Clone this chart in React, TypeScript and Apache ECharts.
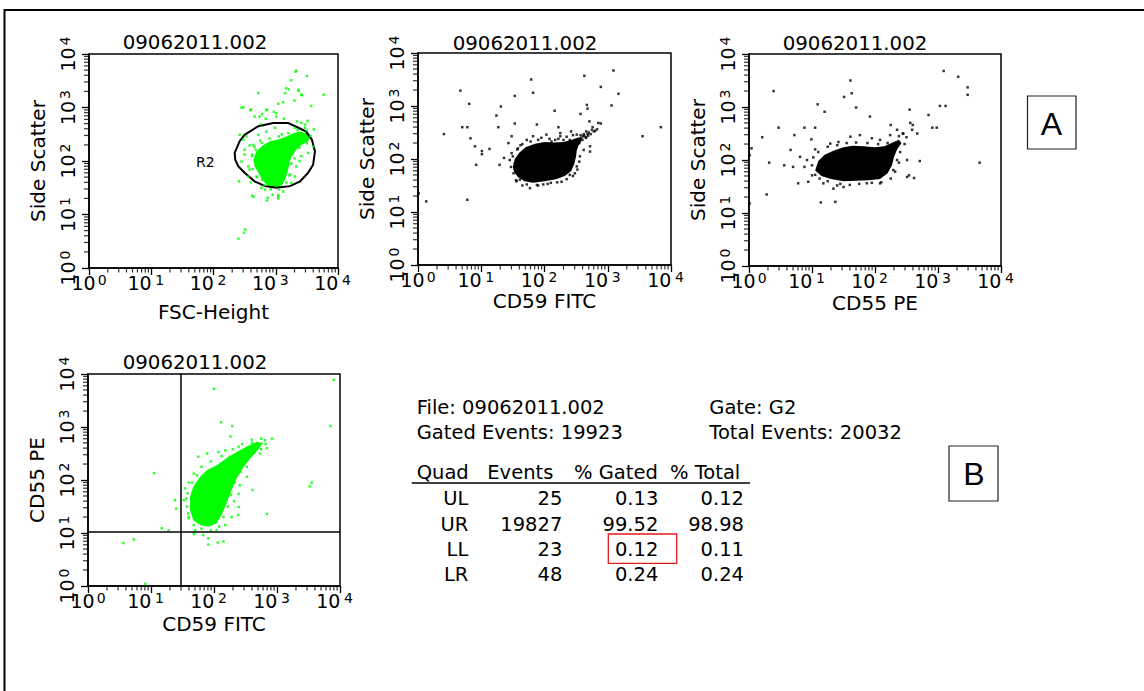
import React, { useEffect, useRef } from "react";
import * as echarts from "echarts";

// ---------- data (values are decades: log10 of channel intensity) ----------
const FILE_NAME = "09062011.002";
const GATE_NAME = "G2";
const GATED_EVENTS = 19923;
const TOTAL_EVENTS = 20032;
const X_NAMES = ["FSC-Height", "CD59 FITC", "CD55 PE", "CD59 FITC"];
const Y_NAMES = ["Side Scatter", "Side Scatter", "Side Scatter", "CD55 PE"];

const QUADS = ["UL", "UR", "LL", "LR"];
const QUAD_EVENTS = [25, 19827, 23, 48];
const QUAD_PCT_GATED = ["0.13", "99.52", "0.12", "0.24"];
const QUAD_PCT_TOTAL = ["0.12", "98.98", "0.11", "0.24"];
const TABLE_HEADERS = ["Quad", "Events", "% Gated", "% Total"];

// Plot 1: FSC-Height vs Side Scatter
const FSC_SSC_EVENTS = [
  [3.33, 3.69], [3.5, 3.59], [3.25, 3.51], [3.17, 3.36], [3.37, 3.31], [3.77, 3.24], [2.72, 3.27],
  [3.15, 3.27], [3.42, 3.23], [3.3, 3.13], [3.12, 3.1], [3.04, 3.07], [3.57, 3.03], [2.48, 3.0],
  [2.6, 2.96], [2.86, 2.96], [2.97, 2.92], [2.78, 2.88], [2.66, 2.83], [2.74, 2.83], [3.01, 2.83],
  [3.13, 2.79], [2.84, 2.79], [3.51, 2.75], [3.34, 2.74], [3.41, 2.71], [2.76, 2.69], [3.61, 2.59],
  [3.47, 2.62], [2.42, 2.49], [2.48, 2.4], [2.58, 2.29], [2.5, 2.12], [2.45, 1.99], [2.56, 1.9],
  [2.41, 1.62], [2.62, 1.35], [2.77, 1.5], [2.87, 1.31], [3.04, 1.34], [2.95, 1.37], [3.22, 1.73],
  [2.62, 2.09], [2.68, 2.21], [2.4, 0.55], [2.49, 0.66], [2.51, 0.72], [2.64, 1.33], [2.86, 1.26],
  [3.04, 1.3], [3.04, 1.36], [2.45, 3.0], [2.59, 2.95], [2.85, 2.95], [3.01, 2.89], [3.21, 3.34],
  [3.32, 3.67], [3.41, 3.24], [3.36, 3.33], [2.5, 2.21], [2.53, 2.46], [2.72, 2.49], [2.85, 2.55],
  [2.99, 2.62], [3.31, 2.62], [3.47, 2.68], [3.6, 2.27], [3.52, 2.15], [3.41, 2.09], [3.33, 1.9],
  [3.31, 1.71], [3.25, 1.59], [2.78, 1.65], [2.69, 1.71], [2.58, 1.84], [2.56, 1.71], [2.83, 1.46],
  [3.12, 1.43], [2.64, 2.3], [2.75, 2.38], [3.1, 2.5], [3.45, 2.45], [3.38, 2.0], [2.6, 1.6],
  [2.62, 2.12], [2.66, 2.26], [2.78, 2.34], [2.9, 2.42], [3.05, 2.46], [3.2, 2.52], [3.35, 2.58],
  [3.5, 2.57], [3.56, 2.47], [3.5, 2.33], [3.38, 2.25], [3.3, 2.05], [3.25, 1.95], [3.23, 1.75],
  [3.17, 1.6], [3.05, 1.47], [2.92, 1.47], [2.82, 1.55], [2.7, 1.7], [2.63, 1.85],
];
const FSC_SSC_CORE = [
  [2.64, 2.02], [2.69, 2.18], [2.8, 2.3], [2.91, 2.37], [3.04, 2.4], [3.17, 2.46], [3.28, 2.52],
  [3.39, 2.55], [3.49, 2.52], [3.55, 2.43], [3.52, 2.37], [3.41, 2.3], [3.33, 2.21], [3.28, 2.12],
  [3.23, 2.02], [3.2, 1.84], [3.15, 1.65], [3.09, 1.53], [2.99, 1.5], [2.88, 1.53], [2.8, 1.62],
  [2.72, 1.78], [2.66, 1.9],
];
const R2_GATE = [
  [2.34, 2.15], [2.42, 2.37], [2.5, 2.49], [2.72, 2.65], [2.96, 2.71], [3.2, 2.71], [3.33, 2.64],
  [3.49, 2.55], [3.58, 2.4], [3.63, 2.18], [3.6, 1.93], [3.52, 1.78], [3.39, 1.62], [3.23, 1.53],
  [3.01, 1.5], [2.83, 1.53], [2.66, 1.62], [2.5, 1.78], [2.4, 1.9], [2.35, 2.02],
];
const R2_LABEL = [1.87, 1.98];

// Plot 2: CD59 FITC vs Side Scatter
const CD59_SSC_EVENTS = [
  [0.67, 3.29], [0.81, 3.04], [0.41, 2.47], [0.7, 2.6], [0.78, 2.6], [0.83, 2.39], [0.9, 2.24],
  [1.01, 2.15], [1.01, 2.09], [1.13, 2.19], [0.92, 1.89], [1.29, 1.89], [1.36, 2.02], [1.24, 2.82],
  [1.31, 2.99], [1.27, 2.6], [1.53, 3.19], [1.53, 2.67], [1.48, 2.43], [1.43, 2.3], [1.79, 3.5],
  [1.82, 3.25], [1.88, 2.65], [2.16, 2.91], [2.22, 2.6], [2.42, 2.52], [2.57, 2.85], [2.63, 3.57],
  [2.67, 3.02], [2.68, 2.95], [2.71, 2.71], [2.89, 3.36], [2.85, 2.68], [2.89, 2.67], [3.09, 3.67],
  [3.17, 3.23], [3.06, 3.01], [3.55, 2.43], [3.84, 2.6], [0.01, 1.35], [0.13, 1.2], [0.78, 1.23],
  [2.11, 2.33], [2.25, 2.43], [2.61, 2.43], [2.8, 2.53], [1.48, 2.11], [1.53, 1.92], [1.51, 1.73],
  [1.61, 1.61], [1.77, 1.45], [1.88, 1.51], [1.98, 1.52], [2.27, 1.57], [2.4, 1.7], [2.48, 1.73],
  [2.51, 1.86], [2.56, 2.05], [2.62, 2.17], [2.72, 2.24], [2.72, 2.14], [1.72, 2.36], [1.82, 2.43],
  [2.03, 2.46], [2.17, 2.36], [2.3, 2.36], [2.25, 2.49], [2.51, 2.46], [2.76, 2.6], [2.66, 2.4],
  [1.62, 2.26], [1.58, 2.2], [1.95, 2.4], [2.4, 2.36], [1.45, 1.98], [1.56, 1.58], [2.1, 1.55],
  [2.58, 2.4], [2.63, 2.44], [2.7, 2.5], [2.75, 2.55], [2.78, 2.52], [2.68, 2.47], [2.6, 2.36],
  [2.55, 2.3], [2.83, 2.56], [2.66, 2.52], [1.47, 1.85], [1.5, 2.05], [1.55, 1.6], [1.65, 1.5],
  [1.72, 1.52], [1.9, 1.5], [2.05, 1.53], [2.2, 1.56], [2.35, 1.62], [2.45, 1.68], [2.52, 1.8],
  [2.55, 1.95], [1.65, 2.28], [1.78, 2.33], [1.9, 2.36], [2.08, 2.38], [2.22, 2.38], [2.35, 2.42],
  [2.45, 2.45], [1.57, 2.18], [2.62, 2.47], [2.65, 2.41], [2.69, 2.44], [2.73, 2.47], [2.57, 2.45],
];
const CD59_SSC_CORE = [
  [1.5, 1.85], [1.53, 2.0], [1.6, 2.12], [1.7, 2.22], [1.85, 2.29], [2.0, 2.32], [2.15, 2.31],
  [2.3, 2.32], [2.42, 2.36], [2.52, 2.4], [2.58, 2.41], [2.59, 2.35], [2.54, 2.26], [2.51, 2.16],
  [2.5, 2.05], [2.47, 1.9], [2.42, 1.77], [2.32, 1.68], [2.18, 1.62], [2.0, 1.58], [1.82, 1.55],
  [1.68, 1.58], [1.58, 1.66], [1.52, 1.75],
];

// Plot 3: CD55 PE vs Side Scatter
const CD55_SSC_EVENTS = [
  [0.39, 3.3], [0.01, 2.09], [0.04, 2.22], [0.21, 2.43], [0.47, 2.61], [0.32, 1.95], [0.28, 1.35],
  [0.01, 1.18], [0.72, 2.47], [0.66, 2.19], [0.56, 1.9], [0.88, 2.61], [1.05, 2.61], [1.09, 3.05],
  [1.2, 2.91], [0.99, 2.39], [1.14, 1.2], [1.37, 1.21], [1.51, 3.19], [1.61, 3.5], [1.63, 3.26],
  [1.7, 2.99], [1.92, 2.82], [2.25, 2.66], [2.55, 2.95], [2.56, 2.7], [2.6, 2.66], [2.85, 2.85],
  [2.91, 2.61], [2.98, 2.61], [3.03, 3.02], [3.12, 3.02], [3.09, 3.68], [3.32, 3.57], [3.47, 3.37],
  [3.47, 3.23], [3.66, 1.95], [2.71, 1.98], [2.54, 1.71], [2.62, 1.66], [0.92, 2.0], [0.88, 1.87],
  [1.0, 1.71], [0.94, 1.59], [1.18, 1.56], [1.34, 1.46], [1.5, 1.49], [1.29, 2.31], [1.42, 2.34],
  [1.61, 2.44], [1.76, 2.47], [1.95, 2.41], [2.08, 2.38], [2.24, 2.47], [2.35, 2.57], [2.59, 2.57],
  [2.67, 2.5], [2.29, 1.81], [2.35, 2.0], [2.51, 2.0], [2.51, 1.68], [2.08, 1.56], [1.87, 1.56],
  [0.81, 2.06], [0.7, 1.87], [0.78, 1.56], [1.05, 2.2], [1.4, 1.52], [2.44, 2.5], [1.0, 1.9],
  [1.02, 2.05], [1.1, 2.15], [1.25, 2.25], [1.4, 2.28], [1.55, 2.32], [1.7, 2.33], [1.88, 2.32],
  [2.05, 2.3], [2.2, 2.32], [2.38, 2.45], [2.45, 2.5], [2.5, 2.43], [2.47, 2.3], [2.4, 2.15],
  [2.38, 1.95], [2.32, 1.78], [2.25, 1.65], [2.1, 1.58], [1.95, 1.57], [1.75, 1.55], [1.6, 1.53],
  [1.45, 1.55], [1.25, 1.6], [1.12, 1.65], [1.05, 1.72],
];
const CD55_SSC_CORE = [
  [1.05, 1.8], [1.1, 1.98], [1.2, 2.1], [1.35, 2.18], [1.5, 2.24], [1.65, 2.27], [1.82, 2.26],
  [2.0, 2.24], [2.15, 2.26], [2.28, 2.33], [2.38, 2.38], [2.42, 2.32], [2.35, 2.2], [2.3, 2.05],
  [2.27, 1.9], [2.2, 1.75], [2.08, 1.64], [1.9, 1.62], [1.7, 1.61], [1.5, 1.6], [1.3, 1.64],
  [1.15, 1.7],
];

// Plot 4: CD59 FITC vs CD55 PE, quadrant cross
const CD59_CD55_EVENTS = [
  [3.9, 3.89], [2.0, 3.72], [2.11, 3.09], [2.29, 3.02], [2.26, 2.82], [3.85, 3.02], [2.92, 2.78],
  [1.05, 2.13], [3.55, 1.95], [3.52, 1.88], [2.61, 1.81], [2.84, 1.36], [2.38, 1.34], [0.56, 0.81],
  [0.73, 0.88], [1.17, 1.09], [1.28, 1.05], [0.91, 0.04], [1.91, 0.78], [2.06, 0.82], [2.15, 0.84],
  [1.68, 0.98], [1.38, 1.62], [1.4, 1.46], [1.54, 1.84], [1.56, 1.65], [1.52, 1.62], [1.59, 1.37],
  [1.7, 1.05], [1.83, 0.96], [1.91, 0.9], [2.04, 1.05], [2.18, 1.15], [2.28, 1.3], [2.39, 1.49],
  [2.39, 1.74], [2.41, 1.9], [2.52, 2.06], [2.52, 2.25], [2.73, 2.5], [2.84, 2.6], [2.81, 2.75],
  [1.73, 2.09], [1.75, 2.44], [1.89, 2.5], [2.07, 2.53], [2.25, 2.44], [2.18, 2.56], [2.39, 2.63],
  [2.6, 2.7], [2.66, 2.58], [1.6, 1.28], [1.65, 1.95], [2.32, 1.6], [1.58, 1.75], [1.6, 1.95],
  [1.68, 2.12], [1.8, 2.25], [1.95, 2.35], [2.12, 2.45], [2.3, 2.58], [2.45, 2.68], [2.6, 2.76],
  [2.75, 2.78], [2.82, 2.68], [2.75, 2.58], [2.62, 2.5], [2.5, 2.35], [2.42, 2.15], [2.33, 1.95],
  [2.27, 1.72], [2.22, 1.5], [2.15, 1.3], [2.08, 1.12], [1.95, 1.05], [1.8, 1.08], [1.68, 1.15],
  [1.6, 1.3], [1.57, 1.5],
];
const CD59_CD55_CORE = [
  [1.62, 1.68], [1.67, 1.87], [1.78, 2.06], [1.89, 2.19], [2.04, 2.28], [2.2, 2.41], [2.36, 2.53],
  [2.52, 2.63], [2.68, 2.72], [2.78, 2.7], [2.7, 2.57], [2.6, 2.44], [2.47, 2.25], [2.36, 2.03],
  [2.28, 1.81], [2.2, 1.56], [2.12, 1.34], [2.04, 1.18], [1.91, 1.12], [1.78, 1.15], [1.67, 1.24],
  [1.62, 1.43],
];
const QUAD_CROSS = [1.48, 1.02];

// ---------- layout / style ----------
const FONT = "DejaVu Sans";
const GREEN = "#00ff00";
const GRIDS = [
  { left: 89, top: 54, width: 249, height: 214 },
  { left: 418, top: 53, width: 253, height: 212 },
  { left: 749, top: 54, width: 252, height: 212 },
  { left: 88, top: 374, width: 252, height: 212 },
];
const X_NAME_GAPS = [37, 28.8, 29.8, 31];
const TITLE_POS = [
  [195, 42.5],
  [525, 43],
  [855, 43],
  [195, 362.5],
];

// log-decade minor tick positions (2..9 within each decade)
const MINOR: number[] = [];
for (let d = 0; d < 4; d++) for (let k = 2; k < 10; k++) MINOR.push(d + Math.log10(k));

function buildOption() {
  const xAxis: any[] = [];
  const yAxis: any[] = [];
  const series: any[] = [];

  const lineStyle = { color: "#000", width: 1.5 };
  const nameStyle = { fontFamily: FONT, fontSize: 20, color: "#000", lineHeight: 14 };
  const richBase = { fontFamily: FONT, fontSize: 19, color: "#000", lineHeight: 20 };
  const richSup = { fontFamily: FONT, fontSize: 14, color: "#000", verticalAlign: "top", lineHeight: 2 };

  GRIDS.forEach((g, gi) => {
    xAxis.push({
      type: "value", gridIndex: gi, min: 0, max: 4, interval: 1, position: "bottom",
      name: X_NAMES[gi], nameLocation: "middle", nameGap: X_NAME_GAPS[gi], nameTextStyle: nameStyle,
      axisLine: { show: true, onZero: false, lineStyle },
      axisTick: { show: true, length: 7, lineStyle: { color: "#000", width: 1.3 } },
      splitLine: { show: false },
      axisLabel: {
        margin: 4.7,
        formatter: (v: number) => (v === 0 ? `{b|10}{t|0}` : `{b|10}{s|${v}}`),
        rich: {
          b: richBase,
          s: { ...richSup, padding: [0, 11, 0, 3.5] },
          t: { ...richSup, padding: [0, 0, 0, 2] },
        },
      },
    });
    yAxis.push({
      type: "value", gridIndex: gi, min: 0, max: 4, interval: 1, position: "left",
      name: Y_NAMES[gi], nameLocation: "middle", nameGap: 44, nameTextStyle: nameStyle,
      axisLine: { show: true, onZero: false, lineStyle },
      axisTick: { show: true, length: 7, lineStyle: { color: "#000", width: 1.3 } },
      splitLine: { show: false },
      axisLabel: {
        rotate: 90, margin: 11,
        formatter: (v: number) => `{b|10}{s|${v}}`,
        rich: { b: richBase, s: { ...richSup, padding: [0, 0, 0, 2] } },
      },
    });
  });

  const polygon = (gi: number, pts: number[][], style: any) => ({
    type: "custom", xAxisIndex: gi, yAxisIndex: gi, data: [[0, 0]], silent: true, clip: true,
    renderItem: (_p: any, api: any) => ({
      type: "polygon",
      shape: { points: pts.map((p) => api.coord(p)) },
      style,
    }),
  });
  const dots = (gi: number, pts: number[][], color: string, extra: any = {}) => ({
    type: "scatter", xAxisIndex: gi, yAxisIndex: gi, data: pts, symbol: "rect",
    symbolSize: 2.5, itemStyle: { color }, silent: true, ...extra,
  });
  // minor log ticks drawn as thin marks placed through the axes
  const minorX = (gi: number) => ({
    type: "scatter", xAxisIndex: gi, yAxisIndex: gi, data: MINOR.map((v) => [v, 0]), clip: false,
    symbol: "rect", symbolSize: [1.2, 4.5], symbolOffset: [0, 2.25], itemStyle: { color: "#000" }, silent: true,
    z: 5,
  });
  const minorY = (gi: number) => ({
    type: "scatter", xAxisIndex: gi, yAxisIndex: gi, data: MINOR.map((v) => [0, v]), clip: false,
    symbol: "rect", symbolSize: [5, 1.2], symbolOffset: [-2.5, 0], itemStyle: { color: "#000" }, silent: true,
    z: 5,
  });

  GRIDS.forEach((_g, gi) => {
    series.push(minorX(gi));
    series.push(minorY(gi));
  });

  // plot 1
  series.push(polygon(0, FSC_SSC_CORE, { fill: GREEN }));
  series.push(dots(0, FSC_SSC_EVENTS, GREEN));
  series.push(polygon(0, R2_GATE, { fill: "none", stroke: "#000", lineWidth: 2 }));
  series.push({
    type: "custom", xAxisIndex: 0, yAxisIndex: 0, data: [R2_LABEL], silent: true,
    renderItem: (_p: any, api: any) => {
      const c = api.coord([api.value(0), api.value(1)]);
      return {
        type: "text", x: c[0], y: c[1],
        style: { text: "R2", fontFamily: FONT, fontSize: 14, fill: "#000", align: "center", verticalAlign: "middle" },
      };
    },
  });
  // plot 2
  series.push(polygon(1, CD59_SSC_CORE, { fill: "#000" }));
  series.push(dots(1, CD59_SSC_EVENTS, "#000"));
  // plot 3
  series.push(polygon(2, CD55_SSC_CORE, { fill: "#000" }));
  series.push(dots(2, CD55_SSC_EVENTS, "#000"));
  // plot 4
  series.push(polygon(3, CD59_CD55_CORE, { fill: GREEN }));
  series.push(
    dots(3, CD59_CD55_EVENTS, GREEN, {
      markLine: {
        silent: true, symbol: ["none", "none"], label: { show: false },
        lineStyle: { color: "#000", width: 1.5, type: "solid" },
        data: [{ xAxis: QUAD_CROSS[0] }, { yAxis: QUAD_CROSS[1] }],
      },
    })
  );

  const txt = (text: string, x: number, y: number, align = "left", size = 19.5, family = FONT) => ({
    type: "text", x, y, silent: true,
    style: { text, fontFamily: family, fontSize: size, fill: "#000", align, verticalAlign: "middle" },
  });

  const graphic: any[] = [
    { type: "rect", silent: true, shape: { x: 4.5, y: 10, width: 1300, height: 900 }, style: { fill: "none", stroke: "#000", lineWidth: 2 } },
    { type: "rect", silent: true, shape: { x: 1027.5, y: 96, width: 48.5, height: 53 }, style: { fill: "none", stroke: "#222", lineWidth: 1.2 } },
    txt("A", 1051.5, 123.5, "center", 32, "Liberation Sans"),
    { type: "rect", silent: true, shape: { x: 949, y: 446, width: 49, height: 55 }, style: { fill: "none", stroke: "#222", lineWidth: 1.2 } },
    txt("B", 974, 474, "center", 32, "Liberation Sans"),
  ];
  TITLE_POS.forEach(([x, y]) => graphic.push(txt(FILE_NAME, x, y, "center", 19.8)));

  graphic.push(txt(`File: ${FILE_NAME}`, 416.7, 407.3));
  graphic.push(txt(`Gated Events: ${GATED_EVENTS}`, 416.7, 432));
  graphic.push(txt(`Gate: ${GATE_NAME}`, 709.3, 407.3));
  graphic.push(txt(`Total Events: ${TOTAL_EVENTS}`, 709.3, 432));
  const headerX = [416.7, 487.3, 574, 670];
  TABLE_HEADERS.forEach((h, i) => graphic.push(txt(h, headerX[i], 472)));
  graphic.push({ type: "line", silent: true, shape: { x1: 411.7, y1: 483, x2: 750, y2: 483 }, style: { stroke: "#000", lineWidth: 1.5 } });
  QUADS.forEach((q, i) => {
    const y = 498.7 + i * 25.3;
    graphic.push(txt(q, 468.3, y, "right"));
    graphic.push(txt(String(QUAD_EVENTS[i]), 562.3, y, "right"));
    graphic.push(txt(QUAD_PCT_GATED[i], 658.3, y, "right"));
    graphic.push(txt(QUAD_PCT_TOTAL[i], 744, y, "right"));
  });
  graphic.push({ type: "rect", silent: true, shape: { x: 608.3, y: 534, width: 68.4, height: 29.3 }, style: { fill: "none", stroke: "#e41a1a", lineWidth: 1.3 } });

  return {
    animation: false,
    backgroundColor: "#fff",
    grid: GRIDS.map((g) => ({ ...g, show: true, borderColor: "#000", borderWidth: 1.5, backgroundColor: "transparent" })),
    xAxis,
    yAxis,
    series,
    graphic,
  };
}

export default function App() {
  const ref = useRef<HTMLDivElement>(null);
  useEffect(() => {
    if (!ref.current) return;
    const chart = echarts.init(ref.current, undefined, { renderer: "svg" });
    chart.setOption(buildOption() as any);
    return () => chart.dispose();
  }, []);
  return (
    <div
      ref={ref}
      style={{ position: "fixed", left: 0, top: 0, width: 1144, height: 691, background: "#fff" }}
    />
  );
}
